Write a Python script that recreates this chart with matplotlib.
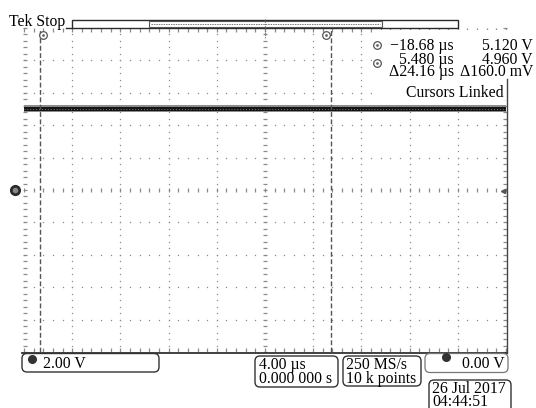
import matplotlib
matplotlib.use('Agg')
import matplotlib.pyplot as plt
from matplotlib.patches import FancyBboxPatch, Rectangle
import numpy as np

# ---------------- data ----------------
time_per_div_us = 4.0
volts_per_div = 2.0
n_hdiv = 10
n_vdiv = 10
cursor_times_us = [-18.68, 5.48]
trace_t_us = [-20.0, 20.0]
trace_upper_v = [5.15, 5.15]
trace_lower_v = [4.87, 4.87]
trace_fringe_hi_v = [5.22, 5.22]
trace_fringe_lo_v = [4.80, 4.80]
trace_level_v = [5.0, 5.0]
readout_time = ["\u221218.68 \u00b5s", "5.480 \u00b5s", "\u039424.16 \u00b5s"]
readout_volt = ["5.120 V", "4.960 V", "\u0394160.0 mV"]
status_text = "Tek Stop"
cursor_mode = "Cursors Linked"
ch1_scale = "2.00 V"
timebase = ["4.00 \u00b5s", "0.000 000 s"]
acq = ["250 MS/s", "10 k points"]
trig_level = "0.00 V"
date_lines = ["26 Jul 2017", "04:44:51"]

W, H = 536, 408
FONT = 'Liberation Serif'
plt.rcParams['font.family'] = [FONT, 'DejaVu Serif']
FS = 11.3

fig = plt.figure(figsize=(W / 100, H / 100), dpi=100)
fig.patch.set_facecolor('white')

# screen area in pixels
L, R, T, B = 24, 506, 28, 352
ax = fig.add_axes([L / W, (H - B) / H, (R - L) / W, (B - T) / H])
xmax = time_per_div_us * n_hdiv / 2
ymax = volts_per_div * n_vdiv / 2
ax.set_xlim(-xmax, xmax)
ax.set_ylim(-ymax, ymax)
ax.axis('off')

gray = '#8a8a8a'
xs_minor = np.arange(-xmax, xmax + 1e-6, time_per_div_us / 5)
ys_minor = np.arange(-ymax, ymax + 1e-6, volts_per_div / 5)
# grid dotted lines
for k in range(1, n_vdiv):
    gy = -ymax + k * volts_per_div
    if abs(gy) < 1e-9:
        continue
    ax.plot(xs_minor, np.full_like(xs_minor, gy), ls='none', marker='s', ms=0.9,
            mew=0, color=gray, zorder=1)
for k in range(1, n_hdiv):
    gx = -xmax + k * time_per_div_us
    if abs(gx) < 1e-9:
        continue
    ax.plot(np.full_like(ys_minor, gx), ys_minor, ls='none', marker='s', ms=0.9,
            mew=0, color=gray, zorder=1)
# center axes with ticks
ax.plot(xs_minor, np.zeros_like(xs_minor), ls='none', marker='|', ms=3.2,
        mew=0.9, color=gray, zorder=1)
ax.plot(np.zeros_like(ys_minor), ys_minor, ls='none', marker='_', ms=3.2,
        mew=0.9, color=gray, zorder=1)
# edge ticks
ax.plot(np.full_like(ys_minor, -xmax + 0.1), ys_minor, ls='none', marker='_', ms=3,
        mew=0.9, color=gray, zorder=1, clip_on=False)
ax.plot(np.full_like(ys_minor, xmax - 0.1), ys_minor, ls='none', marker='_', ms=3,
        mew=0.9, color=gray, zorder=1, clip_on=False)
ax.plot(xs_minor, np.full_like(xs_minor, ymax - 0.1), ls='none', marker='|', ms=2.5,
        mew=0.9, color=gray, zorder=1, clip_on=False)
ax.plot(xs_minor, np.full_like(xs_minor, -ymax + 0.1), ls='none', marker='|', ms=2.5,
        mew=0.9, color=gray, zorder=1, clip_on=False)

# trace
ax.fill_between(trace_t_us, trace_fringe_lo_v, trace_fringe_hi_v, color='#8c8c8c', lw=0, zorder=2)
ax.fill_between(trace_t_us, trace_lower_v, trace_upper_v, color='#141414', lw=0, zorder=3)
ax.plot(trace_t_us, trace_level_v, color='#a0a0a0', lw=0.6, ls=(0, (1, 2.5)), zorder=4)

# cursors
for ct in cursor_times_us:
    ax.axvline(ct, color='#555555', lw=1.0, ls=(0, (3.5, 1.8)), zorder=5)

# ---------------- overlay in pixel coords ----------------
ov = fig.add_axes([0, 0, 1, 1], zorder=10)
ov.set_xlim(0, W)
ov.set_ylim(H, 0)
ov.axis('off')
ov.patch.set_alpha(0)

dark = '#2a2a2a'
# readout background
ov.add_patch(Rectangle((372, 30), 164, 70, facecolor='white', edgecolor='none', zorder=1))
# right border
ov.plot([507, 507], [79, 353], color='#444444', lw=1.0, zorder=3)
# bottom border
ov.plot([22, 507], [352.5, 352.5], color='#333333', lw=1.3, zorder=3)

# Tek Stop + record bar
ov.text(9, 26, status_text, fontsize=FS, color='black', ha='left', va='baseline', zorder=4)
ov.plot([66, 72], [28, 28], color=dark, lw=1.0, zorder=3)
ov.add_patch(Rectangle((72, 19.5), 386, 8.5, facecolor='white', edgecolor=dark, lw=1.0, zorder=3))
ov.add_patch(Rectangle((149, 21), 233, 5.5, facecolor='white', edgecolor='#555555', lw=0.8, zorder=4))
ov.plot([151, 380], [23.8, 23.8], color='#777777', lw=0.7, ls=(0, (1.5, 1)), zorder=5)
ov.plot([265, 265], [19, 38], color='#777777', lw=0.8, ls=(0, (1, 1)), zorder=5)

# cursor markers
def cmark(x, y):
    ov.plot([x], [y], marker='o', ms=5.5, mfc='white', mec='#555555', mew=0.9, zorder=6)
    ov.plot([x], [y], marker='o', ms=2.0, mfc='#666666', mec='none', zorder=7)

cmark(43, 35)
cmark(326, 35)
cmark(377, 45)
cmark(377, 63)

# readout text
base_y = [50, 64, 76]
for txt_t, txt_v, by in zip(readout_time, readout_volt, base_y):
    ov.text(454, by, txt_t, fontsize=FS, ha='right', va='baseline', zorder=8)
    ov.text(533, by, txt_v, fontsize=FS, ha='right', va='baseline', zorder=8)
ov.text(504, 97, cursor_mode, fontsize=FS, ha='right', va='baseline', zorder=8)

# ground marker and trigger level marker
ov.plot([15], [190], marker='o', ms=7, color='#2a2a2a', zorder=6)
ov.plot([15], [190], marker='o', ms=3, color='#888888', zorder=7)
ov.plot([503], [191], marker='<', ms=3, color='#555555', zorder=6)

# bottom boxes
def rbox(x, y, w, h, lw=1.0, ec='#333333'):
    ov.add_patch(FancyBboxPatch((x, y), w, h, boxstyle='round,pad=0,rounding_size=5',
                                facecolor='white', edgecolor=ec, lw=lw, zorder=4))

rbox(22, 353.5, 137, 18.5)
ov.plot([32], [359], marker='o', ms=5.5, color='#333333', zorder=6)
ov.text(43, 368, ch1_scale, fontsize=FS, ha='left', va='baseline', zorder=8)

rbox(255, 356, 83, 31)
ov.text(259, 369, timebase[0], fontsize=FS, ha='left', va='baseline', zorder=8)
ov.text(259, 383, timebase[1], fontsize=FS, ha='left', va='baseline', zorder=8)

rbox(343, 356, 78, 30)
ov.text(346, 369, acq[0], fontsize=FS, ha='left', va='baseline', zorder=8)
ov.text(346, 383, acq[1], fontsize=FS, ha='left', va='baseline', zorder=8)

rbox(425, 353.5, 83, 19, ec='#777777', lw=0.9)
ov.plot([446], [357], marker='o', ms=5.5, color='#333333', zorder=6)
ov.text(505, 368, trig_level, fontsize=FS, ha='right', va='baseline', zorder=8)

rbox(429, 380, 82, 40)
ov.text(432, 393, date_lines[0], fontsize=FS, ha='left', va='baseline', zorder=8)
ov.text(432, 406, date_lines[1], fontsize=FS, ha='left', va='baseline', zorder=8)

fig.savefig('out.png', dpi=100, facecolor='white')
